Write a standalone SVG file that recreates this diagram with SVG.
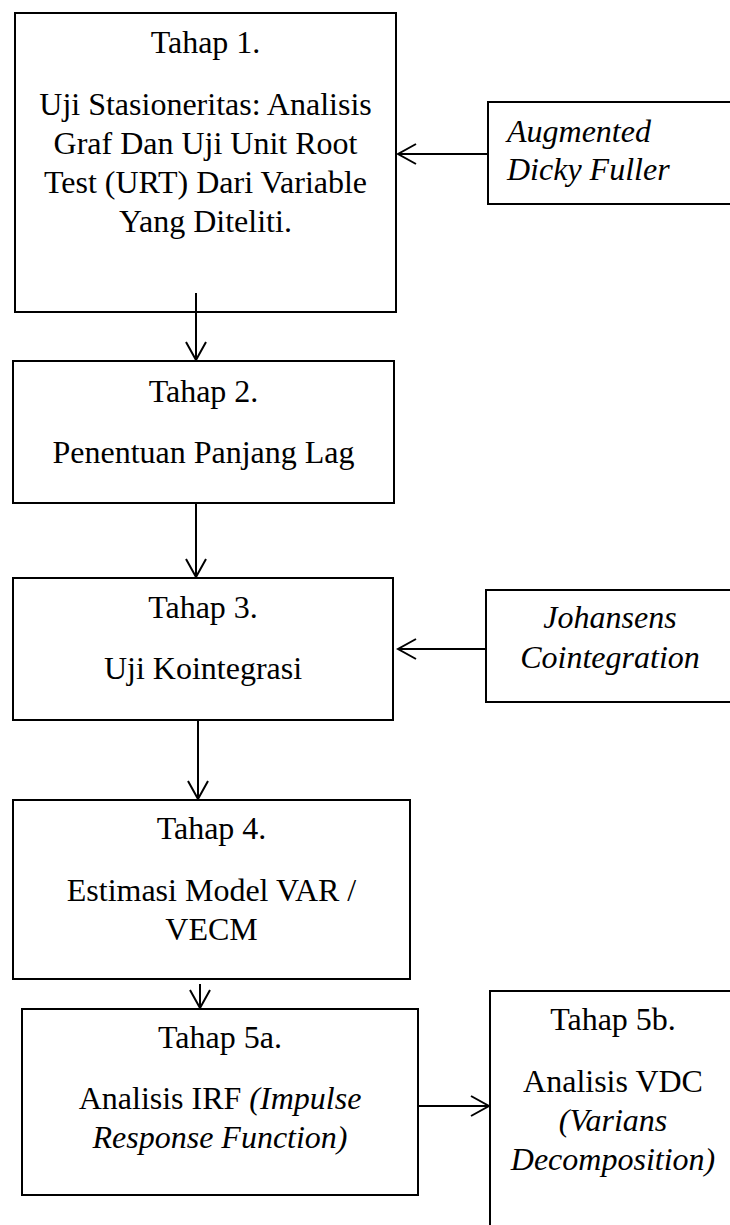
<svg xmlns="http://www.w3.org/2000/svg" width="730" height="1225" viewBox="0 0 730 1225">
<style>
.box{fill:#fff;stroke:#000;stroke-width:2}
.t{font-family:'Liberation Serif','DejaVu Serif',serif;font-size:32px;fill:#000;text-anchor:middle}
.l{text-anchor:start}
.i{font-style:italic}
.c{fill:none;stroke:#000;stroke-width:2}
</style>
<defs>
<marker id="ah" markerUnits="userSpaceOnUse" viewBox="-22 -13 24 26" refX="0" refY="0" markerWidth="24" markerHeight="26" orient="auto">
<path d="M-18,-10 L0,0 L-18,10" fill="none" stroke="#000" stroke-width="2"/>
</marker>
</defs>
<rect width="730" height="1225" fill="#fff"/>
<g id="tahap1">
<rect class="box" x="15" y="13" width="381" height="299"/>
<text class="t" x="205.5" y="53">Tahap 1.</text>
<text class="t" x="205.5" y="115">Uji Stasioneritas: Analisis</text>
<text class="t" x="205.5" y="154">Graf Dan Uji Unit Root</text>
<text class="t" x="205.5" y="193">Test (URT) Dari Variable</text>
<text class="t" x="205.5" y="232">Yang Diteliti.</text>
</g>
<g id="adf">
<rect class="box" x="488" y="102" width="260" height="102"/>
<text class="t l i" x="507" y="142">Augmented</text>
<text class="t l i" x="507" y="180">Dicky Fuller</text>
</g>
<g id="tahap2">
<rect class="box" x="13" y="361" width="381" height="142"/>
<text class="t" x="203.5" y="402">Tahap 2.</text>
<text class="t" x="203.5" y="463">Penentuan Panjang Lag</text>
</g>
<g id="tahap3">
<rect class="box" x="13" y="578" width="380" height="142"/>
<text class="t" x="203" y="618">Tahap 3.</text>
<text class="t" x="203" y="679">Uji Kointegrasi</text>
</g>
<g id="johansens">
<rect class="box" x="486" y="590" width="249" height="112"/>
<text class="t i" x="610" y="628">Johansens</text>
<text class="t i" x="610" y="668">Cointegration</text>
</g>
<g id="tahap4">
<rect class="box" x="13" y="800" width="397" height="179"/>
<text class="t" x="211.5" y="839">Tahap 4.</text>
<text class="t" x="211.5" y="901">Estimasi Model VAR /</text>
<text class="t" x="211.5" y="940">VECM</text>
</g>
<g id="tahap5a">
<rect class="box" x="22" y="1009" width="396" height="186"/>
<text class="t" x="220" y="1048">Tahap 5a.</text>
<text class="t" x="220" y="1109">Analisis IRF <tspan class="i">(Impulse</tspan></text>
<text class="t i" x="220" y="1148">Response Function)</text>
</g>
<g id="tahap5b">
<rect class="box" x="490" y="991" width="246" height="260"/>
<text class="t" x="613" y="1030">Tahap 5b.</text>
<text class="t" x="613" y="1092">Analisis VDC</text>
<text class="t i" x="613" y="1131">(Varians</text>
<text class="t i" x="613" y="1170">Decomposition)</text>
</g>
<g id="connectors">
<line class="c" x1="196" y1="293" x2="196" y2="360" marker-end="url(#ah)"/>
<line class="c" x1="196" y1="503" x2="196" y2="577" marker-end="url(#ah)"/>
<line class="c" x1="198" y1="720" x2="198" y2="799" marker-end="url(#ah)"/>
<line class="c" x1="200" y1="984" x2="200" y2="1008" marker-end="url(#ah)"/>
<line class="c" x1="418" y1="1106" x2="489" y2="1106" marker-end="url(#ah)"/>
<line class="c" x1="488" y1="154" x2="398" y2="154" marker-end="url(#ah)"/>
<line class="c" x1="486" y1="649" x2="398" y2="649" marker-end="url(#ah)"/>
</g>
</svg>
